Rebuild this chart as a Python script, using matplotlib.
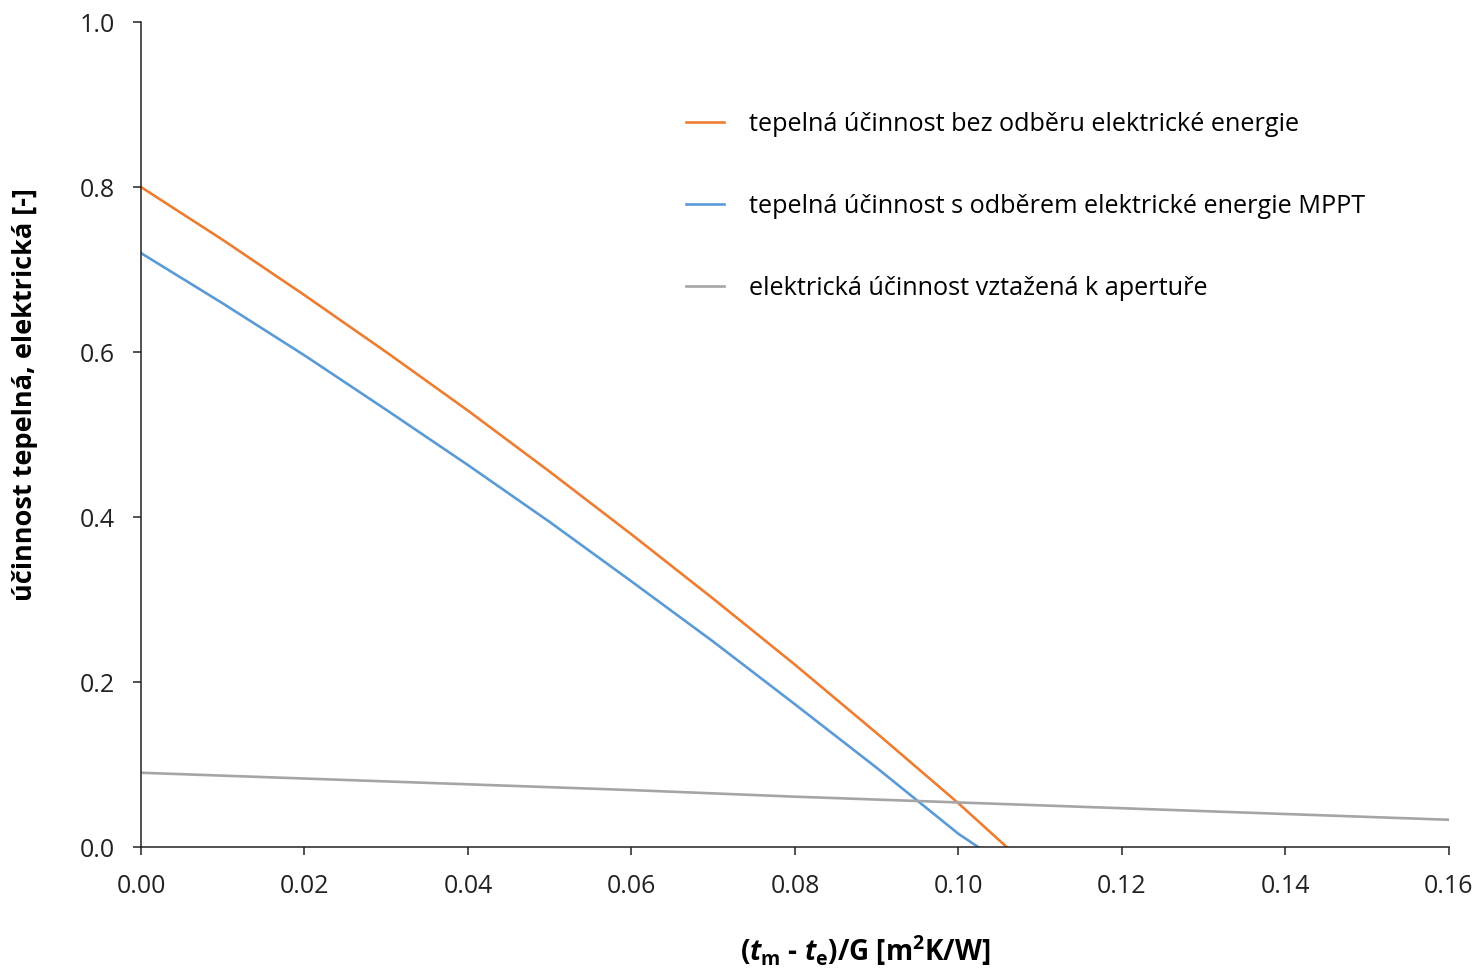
import numpy as np
import matplotlib.pyplot as plt

plt.rcParams['mathtext.fontset'] = 'custom'
plt.rcParams['mathtext.rm'] = 'Open Sans:bold'
plt.rcParams['mathtext.it'] = 'Open Sans:italic:bold'
plt.rcParams['mathtext.bf'] = 'Open Sans:bold'

# odečtené hodnoty z grafu
x_tep = [0.0, 0.01, 0.02, 0.03, 0.04, 0.05, 0.06, 0.07, 0.08, 0.09, 0.10, 0.1059]
eta_bez = [0.800, 0.736, 0.669, 0.600, 0.529, 0.455, 0.379, 0.301, 0.221, 0.138, 0.053, 0.0]

x_mppt = [0.0, 0.01, 0.02, 0.03, 0.04, 0.05, 0.06, 0.07, 0.08, 0.09, 0.10, 0.1024]
eta_mppt = [0.720, 0.659, 0.596, 0.530, 0.463, 0.394, 0.322, 0.249, 0.173, 0.096, 0.016, 0.0]

x_el = [0.0, 0.02, 0.04, 0.06, 0.08, 0.10, 0.12, 0.14, 0.16]
eta_el = [0.090, 0.083, 0.076, 0.069, 0.061, 0.054, 0.047, 0.040, 0.033]

labels = ['tepelná účinnost bez odběru elektrické energie',
          'tepelná účinnost s odběrem elektrické energie MPPT',
          'elektrická účinnost vztažená k apertuře']

xticks = [0.00, 0.02, 0.04, 0.06, 0.08, 0.10, 0.12, 0.14, 0.16]
yticks = [0.0, 0.2, 0.4, 0.6, 0.8, 1.0]

fig = plt.figure(figsize=(14.82, 9.71), dpi=100)
ax = fig.add_axes([0.0951, 0.1277, 0.8826, 0.8496])

ax.plot(x_tep, eta_bez, color='#ED7D31', lw=1.9, label=labels[0])
ax.plot(x_mppt, eta_mppt, color='#5B9BD5', lw=1.9, label=labels[1])
ax.plot(x_el, eta_el, color='#A5A5A5', lw=1.9, label=labels[2])

ax.set_xlim(0, 0.16)
ax.set_ylim(0, 1.0)
ax.set_xticks(xticks)
ax.set_yticks(yticks)
ax.set_xticklabels([f'{v:.2f}' for v in xticks],
                   family='Open Sans', fontsize=18, color='#222222')
ax.set_yticklabels([f'{v:.1f}' for v in yticks],
                   family='Open Sans', fontsize=18, color='#222222')

for s in ['top', 'right']:
    ax.spines[s].set_visible(False)
for s in ['left', 'bottom']:
    ax.spines[s].set_linewidth(1.1)
    ax.spines[s].set_color('#222222')
ax.tick_params(direction='out', length=6, width=1.1, color='#222222')
ax.tick_params(axis='x', pad=13.5)
ax.tick_params(axis='y', pad=12.5)

ax.set_ylabel('účinnost tepelná, elektrická [-]', family='Open Sans',
              fontweight='bold', fontsize=19.5)
ax.yaxis.set_label_coords(-0.079, 0.548)
ax.set_xlabel(r'($\mathit{t}_{\mathrm{m}}$ - $\mathit{t}_{\mathrm{e}}$)/G [m$^{2}$K/W]',
              family='Open Sans', fontweight='bold', fontsize=20)
ax.xaxis.set_label_coords(0.554, -0.104)

ax.legend(loc='upper left', bbox_to_anchor=(0.4167, 0.891), frameon=False,
          prop={'family': 'Open Sans', 'size': 18.2}, borderpad=0, borderaxespad=0,
          handlelength=1.5, handletextpad=1.0, labelspacing=2.26)

fig.savefig('out.png', dpi=100)
